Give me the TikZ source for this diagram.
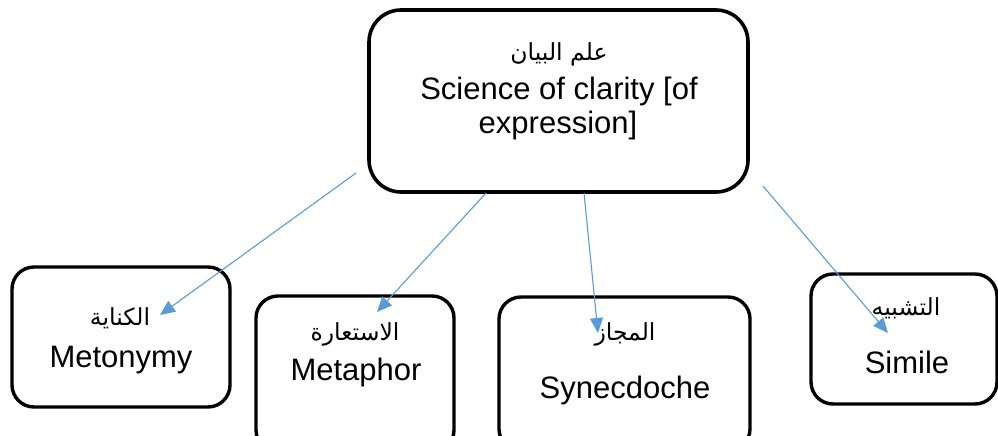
\documentclass[tikz,border=0pt]{standalone}
\usepackage{fontspec}
\setmainfont{Liberation Sans}
\newfontfamily\arabicfont[Script=Arabic]{DejaVu Sans}
\TeXXeTstate=1
\usetikzlibrary{arrows.meta}
\definecolor{linkblue}{HTML}{5B9BD5}
\begin{document}
\begin{tikzpicture}[x=1pt,y=-1pt,
  bigbox/.style={draw=black,line width=3.6pt,rounded corners=32pt,inner sep=0pt},
  smallbox/.style={draw=black,line width=3.4pt,rounded corners=22pt,inner sep=0pt},
  latin/.style={anchor=base,inner sep=0pt,font=\fontsize{31}{34}\selectfont},
  arab/.style={anchor=base,inner sep=0pt,font=\arabicfont\fontsize{23.5}{28}\selectfont},
  link/.style={draw=linkblue,line width=1.1pt,-{Triangle[length=15pt,width=13pt]}}]
\clip (0,0) rectangle (998,436);
\fill[white] (0,0) rectangle (998,436);

% boxes
\node[bigbox,minimum width=379pt,minimum height=182pt] (root) at (558.5,101) {};
\node[smallbox,minimum width=218pt,minimum height=140pt] (kinaya) at (121,337) {};
\node[smallbox,minimum width=198pt,minimum height=156pt] (istiara) at (355,374) {};
\node[smallbox,minimum width=251pt,minimum height=154pt] (majaz) at (624.5,374) {};
\node[smallbox,minimum width=186pt,minimum height=130pt] (tashbih) at (904,339) {};

% labels
\node[arab] (rootar) at (559,60) {\beginR علم البيان\endR};
\node[latin] (rootl1) at (559,99) {Science of clarity [of};
\node[latin] (rootl2) at (558,133) {expression]};

\node[arab] (kinayaar) at (120,325) {\beginR الكناية\endR};
\node[latin] (kinayal) at (121,367) {Metonymy};

\node[arab] (istiaraar) at (355,340) {\beginR الاستعارة\endR};
\node[latin] (istiaral) at (356,380) {Metaphor};

\node[arab] (majazar) at (625,340) {\beginR المجاز\endR};
\node[latin] (majazl) at (625,398) {Synecdoche};

\node[arab] (tashbihar) at (906,315) {\beginR التشبيه\endR};
\node[latin] (tashbihl) at (907,373) {Simile};

% connector end points
\coordinate (s1) at (356,173);
\coordinate (e1) at (160,315);
\coordinate (s2) at (486,193);
\coordinate (e2) at (377,312);
\coordinate (s3) at (584,193);
\coordinate (e3) at (598,333);
\coordinate (s4) at (763,186);
\coordinate (e4) at (888,333);

% connectors
\draw[link] (s1) -- (e1);
\draw[link] (s2) -- (e2);
\draw[link] (s3) -- (e3);
\draw[link] (s4) -- (e4);
\end{tikzpicture}
\end{document}
